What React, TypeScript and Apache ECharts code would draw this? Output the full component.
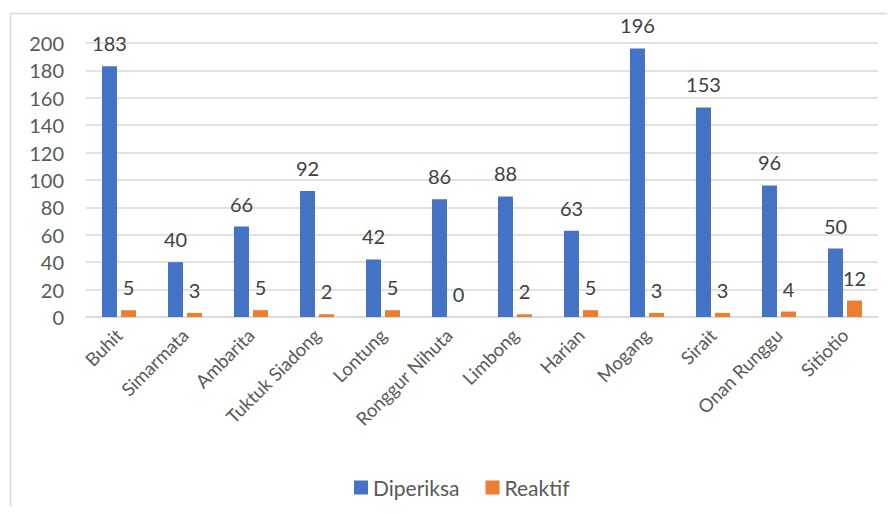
import React, { useEffect, useRef } from "react";
import * as echarts from "echarts";

const categories = [
  "Buhit",
  "Simarmata",
  "Ambarita",
  "Tuktuk Siadong",
  "Lontung",
  "Ronggur Nihuta",
  "Limbong",
  "Harian",
  "Mogang",
  "Sirait",
  "Onan Runggu",
  "Sitiotio",
];
const diperiksa = [183, 40, 66, 92, 42, 86, 88, 63, 196, 153, 96, 50];
const reaktif = [5, 3, 5, 2, 5, 0, 2, 5, 3, 3, 4, 12];
const seriesNames = ["Diperiksa", "Reaktif"];

const FONT = "Lato, 'Open Sans', sans-serif";

export default function App() {
  const ref = useRef<HTMLDivElement>(null);
  useEffect(() => {
    if (!ref.current) return;
    const chart = echarts.init(ref.current, undefined, { renderer: "svg" });
    const label = {
      show: true,
      position: "top",
      distance: 13,
      fontSize: 20,
      color: "#404040",
      fontFamily: FONT,
    };
    chart.setOption({
      animation: false,
      textStyle: { fontFamily: FONT },
      graphic: [
        {
          type: "line",
          shape: { x1: 10, y1: 13.5, x2: 895, y2: 13.5 },
          style: { stroke: "#d9d9d9", lineWidth: 1.5 },
        },
        {
          type: "line",
          shape: { x1: 10.5, y1: 13, x2: 10.5, y2: 514 },
          style: { stroke: "#d9d9d9", lineWidth: 1.5 },
        },
      ],
      grid: { left: 86, right: 17, top: 43, bottom: 197, containLabel: false },
      legend: {
        left: 354,
        top: 477,
        padding: 0,
        itemWidth: 14,
        itemHeight: 14,
        itemGap: 26,
        icon: "rect",
        textStyle: { fontSize: 21, color: "#595959", fontFamily: FONT },
        data: seriesNames,
      },
      xAxis: {
        type: "category",
        data: categories,
        axisLine: { show: true, lineStyle: { color: "#d9d9d9", width: 1.5 } },
        axisTick: { show: false },
        axisLabel: {
          rotate: 45,
          interval: 0,
          fontSize: 18.5,
          color: "#595959",
          fontFamily: FONT,
          margin: 15,
        },
      },
      yAxis: {
        type: "value",
        min: 0,
        max: 200,
        interval: 20,
        axisLine: { show: false },
        axisTick: { show: false },
        splitLine: { lineStyle: { color: "#d9d9d9", width: 1.5 } },
        axisLabel: {
          fontSize: 20,
          color: "#595959",
          fontFamily: FONT,
          margin: 22,
        },
      },
      series: [
        {
          name: seriesNames[0],
          type: "bar",
          data: diperiksa,
          barWidth: 15,
          barGap: "27%",
          itemStyle: { color: "#4472C4" },
          label,
        },
        {
          name: seriesNames[1],
          type: "bar",
          data: reaktif,
          barWidth: 15,
          barGap: "27%",
          itemStyle: { color: "#ED7D31" },
          label,
        },
      ],
    });
    return () => chart.dispose();
  }, []);
  return <div ref={ref} style={{ width: 895, height: 514, margin: -8 }} />;
}
